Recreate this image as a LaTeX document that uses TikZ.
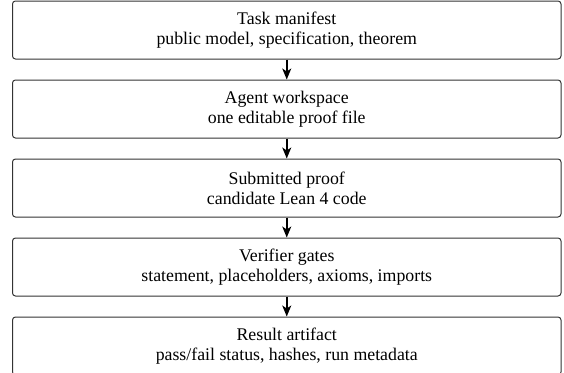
\documentclass[tikz,border=0pt]{standalone}
\usepackage{fontspec}
\setmainfont{Liberation Serif}
\usetikzlibrary{arrows.meta}

\tikzset{
  stage/.style={
    draw=black!80, line width=1pt, rounded corners=3pt,
    minimum width=548.5pt, minimum height=58pt,
    inner sep=0pt, align=center,
    font=\fontsize{17.8}{20}\selectfont
  },
  flow/.style={
    line width=1.5pt,
    -{Stealth[length=11pt,width=9pt,inset=3pt]}
  }
}

\begin{document}
\begin{tikzpicture}[x=1pt,y=1pt]
  \useasboundingbox (0,0) rectangle (564,-372);

  \node[stage] (manifest)  at (286.75,-30)  {Task manifest\\public model, specification, theorem};
  \node[stage] (workspace) at (286.75,-109) {Agent workspace\\one editable proof file};
  \node[stage] (proof)     at (286.75,-188) {Submitted proof\\candidate Lean 4 code};
  \node[stage] (gates)     at (286.75,-267) {Verifier gates\\statement, placeholders, axioms, imports};
  \node[stage] (result)    at (286.75,-346) {Result artifact\\pass/fail status, hashes, run metadata};

  \draw[flow] (manifest.south)  -- (workspace.north);
  \draw[flow] (workspace.south) -- (proof.north);
  \draw[flow] (proof.south)     -- (gates.north);
  \draw[flow] (gates.south)     -- (result.north);
\end{tikzpicture}
\end{document}
